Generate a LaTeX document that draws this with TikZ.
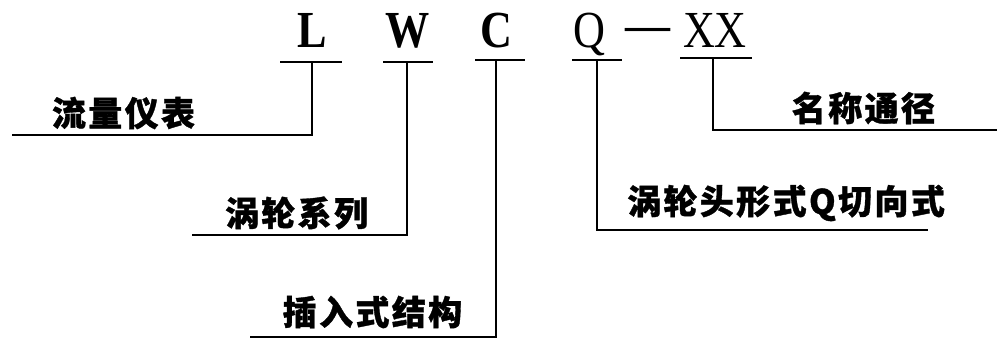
\documentclass[tikz,border=0pt]{standalone}
\usepackage{fontspec}
\setmainfont{Liberation Serif}
\newfontfamily\codefont{Liberation Serif}[FakeStretch=0.85]
\newfontfamily\cjk{Noto Sans CJK SC}[LetterSpace=7,BoldFeatures={FakeBold=1}]
\begin{document}
\begin{tikzpicture}[x=1pt,y=-1pt,line width=1.3pt,
  code/.style={font=\codefont\fontsize{52}{52}\selectfont,inner sep=0pt,anchor=base},
  codeb/.style={code,font=\codefont\bfseries\fontsize{52}{52}\selectfont},
  lab/.style={font=\cjk\bfseries\fontsize{34}{34}\selectfont,inner sep=0pt},
  bar/.style={line width=1.3pt},
  lead/.style={line width=1.3pt}]
\useasboundingbox (0,0) rectangle (997,339);
% code letters
\node[codeb] (L) at (312,48) {L};
\node[codeb] (W) at (408,48) {W};
\node[codeb] (C) at (496,48) {C};
\node[code] (Q) at (589,48) {Q};
\node[code,font=\bfseries\fontsize{45}{45}\selectfont] (D) at (647.5,41) {—};
\node[code] (X) at (715,48) {XX};
% underline ends and leader ends
\coordinate (La) at (280,62); \coordinate (Lb) at (342,62); \coordinate (Lm) at (312,62); \coordinate (Le) at (12,135);
\coordinate (Wa) at (383,62); \coordinate (Wb) at (433,62); \coordinate (Wm) at (407,62); \coordinate (We) at (192,235);
\coordinate (Ca) at (475,60); \coordinate (Cb) at (525,60); \coordinate (Cm) at (496,60); \coordinate (Ce) at (250,337);
\coordinate (Qa) at (572,60); \coordinate (Qb) at (622,60); \coordinate (Qm) at (597,60); \coordinate (Qe) at (928,230);
\coordinate (Xa) at (680,58); \coordinate (Xb) at (752,58); \coordinate (Xm) at (713,58); \coordinate (Xe) at (997,130);
% labels
\node[lab] (tL) at (123.5,113) {流量仪表};
\node[lab] (tW) at (296.5,213) {涡轮系列};
\node[lab] (tC) at (372.5,312) {插入式结构};
\node[lab] (tQ) at (786,203) {涡轮头形式Q切向式};
\node[lab] (tX) at (863.5,108) {名称通径};
% bars
\draw[bar] (La) -- (Lb);
\draw[bar] (Wa) -- (Wb);
\draw[bar] (Ca) -- (Cb);
\draw[bar] (Qa) -- (Qb);
\draw[bar] (Xa) -- (Xb);
% leaders
\draw[lead] (Lm) |- (Le);
\draw[lead] (Wm) |- (We);
\draw[lead] (Cm) |- (Ce);
\draw[lead] (Qm) |- (Qe);
\draw[lead] (Xm) |- (Xe);
\end{tikzpicture}
\end{document}
